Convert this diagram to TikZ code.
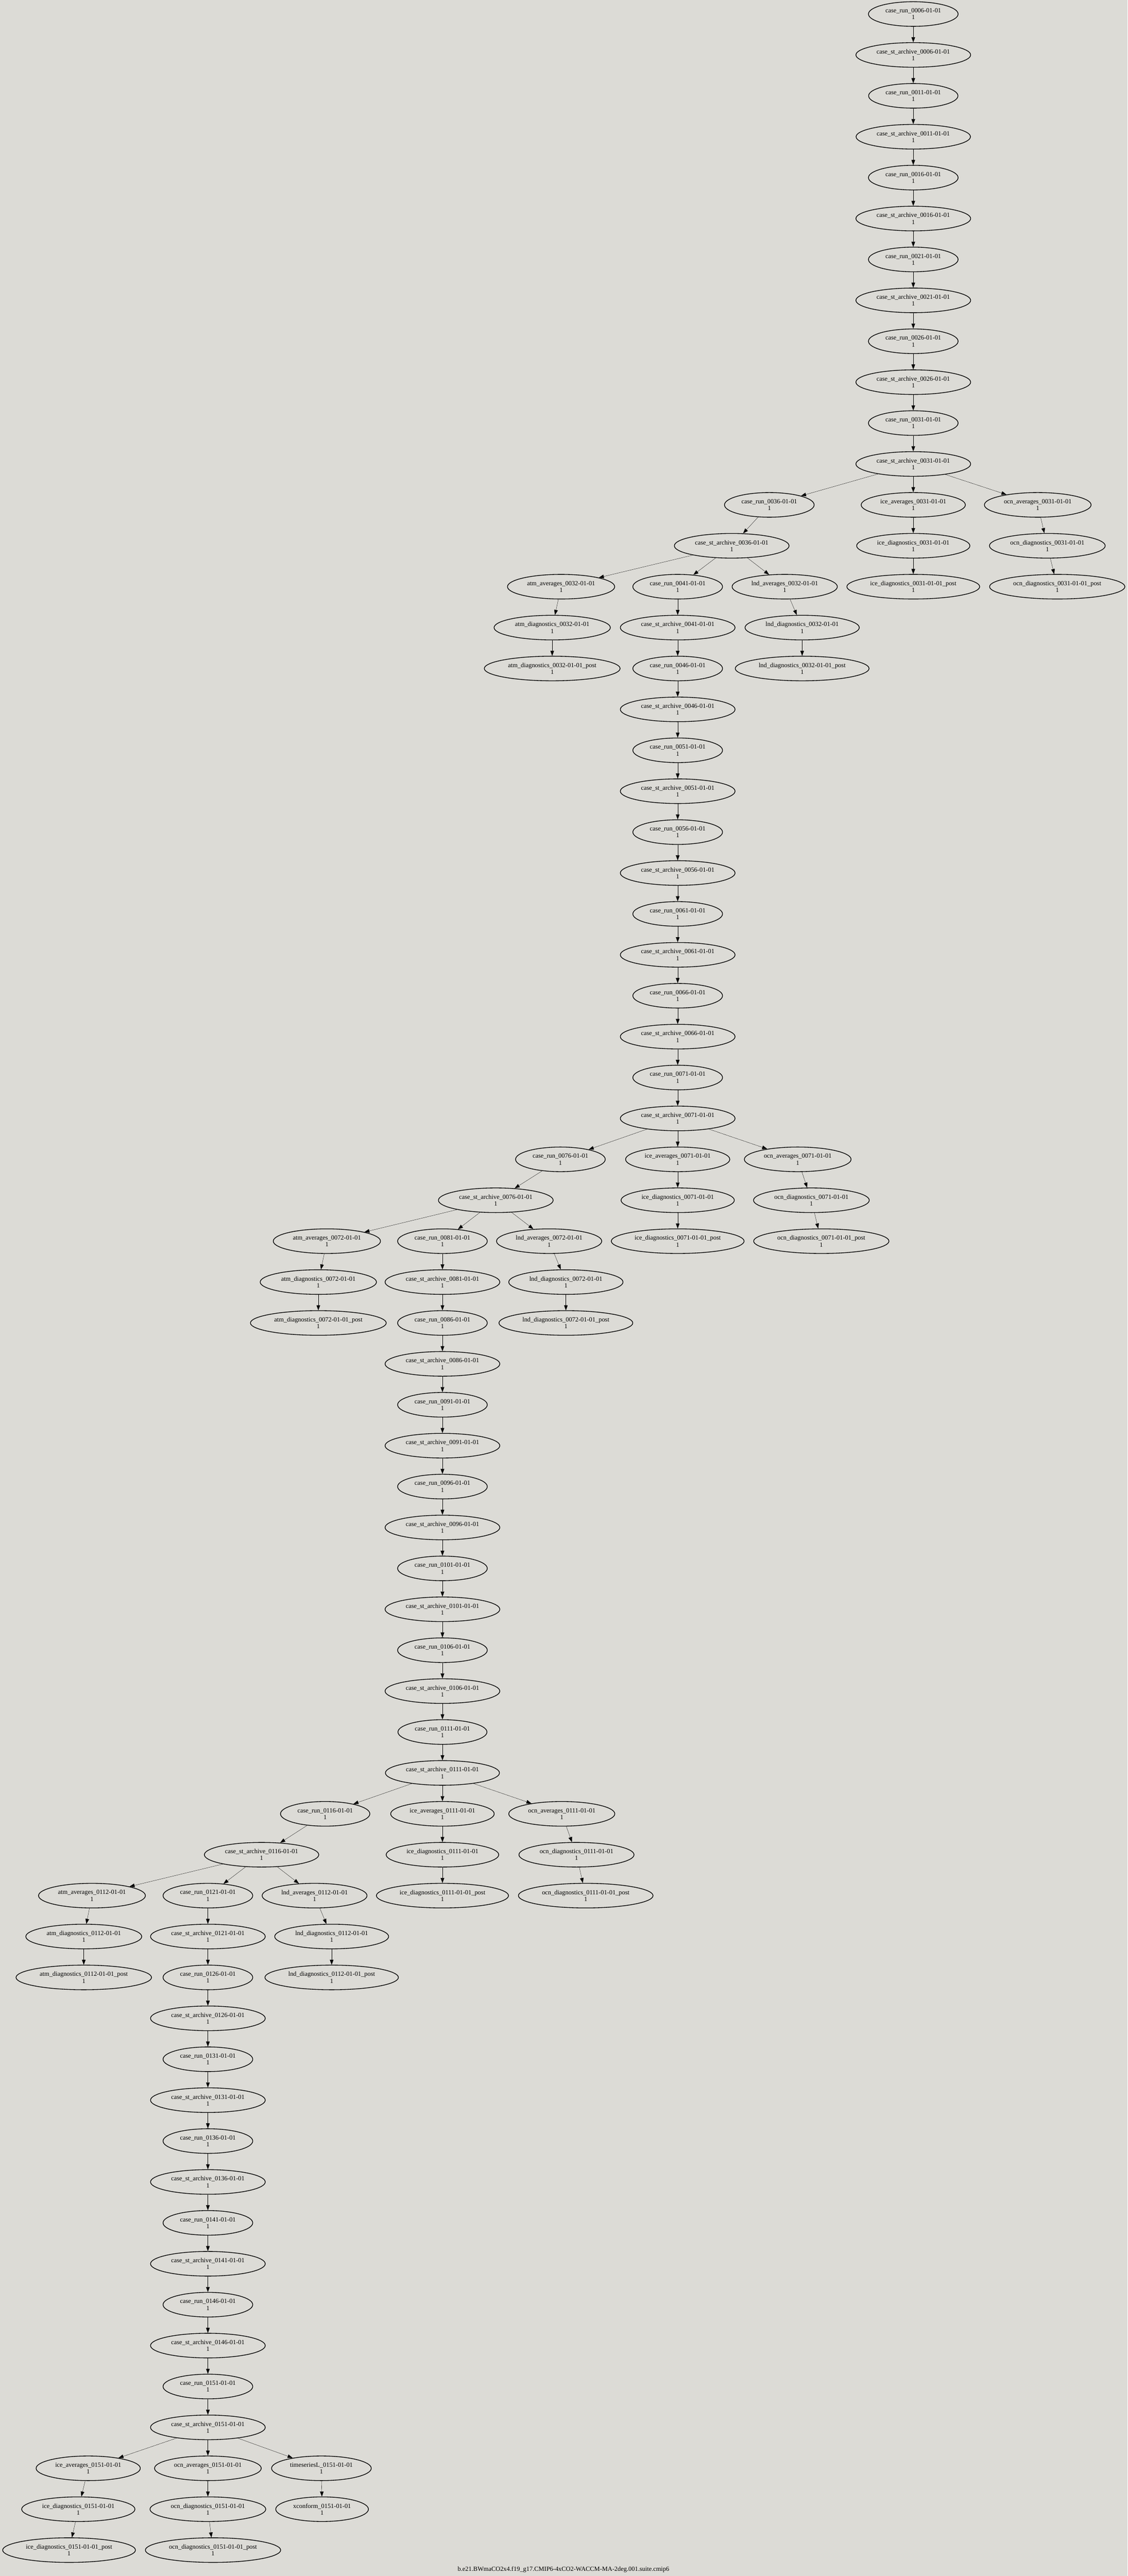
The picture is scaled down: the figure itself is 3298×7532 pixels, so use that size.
\documentclass[tikz,border=0pt]{standalone}
\usepackage{fontspec}
\setmainfont{Liberation Serif}
\usetikzlibrary{shapes.geometric,arrows.meta}
\definecolor{bgcol}{RGB}{220,219,214}
\newcommand\rk[1]{41+(#1)*119.6}

\begin{document}
\begin{tikzpicture}[
  x=0.75pt, y=-0.75pt,
  box/.style={ellipse, draw, line width=1.5pt, minimum height=54pt, inner xsep=8.5pt, inner ysep=0pt,
    align=center, font=\fontsize{14}{15}\selectfont},
  >={Triangle[length=11pt,width=8pt]}
]
  \fill[bgcol] (0,0) rectangle (3298,7532);
  \useasboundingbox (0,0) rectangle (3298,7532);

  % main column: case_run / case_st_archive
  \foreach \yr/\xr/\xs [remember=\yr as \prev (initially 0001)] in {
      0006/2671/2671, 0011/2671/2671, 0016/2671/2671, 0021/2671/2671, 0026/2671/2671, 0031/2671/2671,
      0036/2250/2140, 0041/1982/1982,
      0046/1982/1982, 0051/1982/1982, 0056/1982/1982, 0061/1982/1982, 0066/1982/1982, 0071/1982/1982,
      0076/1639/1450, 0081/1294/1294,
      0086/1294/1294, 0091/1294/1294, 0096/1294/1294, 0101/1294/1294, 0106/1294/1294, 0111/1294/1294,
      0116/951/765, 0121/608/608,
      0126/608/608, 0131/608/608, 0136/608/608, 0141/608/608, 0146/608/608, 0151/608/608} {
    \edef\rr{\the\numexpr2*(\yr-6)/5\relax}
    \node[box] (run\yr) at (\xr,{\rk{\rr}}) {case\_run\_\yr-01-01\\1};
    \node[box] (st\yr) at (\xs,{\rk{\rr+1}}) {case\_st\_archive\_\yr-01-01\\1};
    \draw[->] (run\yr) -- (st\yr);
    \ifnum\prev>1 \draw[->] (st\prev) -- (run\yr); \fi
  }

  % first branch
  \node[box] (iceavg0031) at (2671,{\rk{12}}) {ice\_averages\_0031-01-01\\1};
  \node[box] (ocnavg0031) at (3035,{\rk{12}}) {ocn\_averages\_0031-01-01\\1};
  \node[box] (icediag0031) at (2671,{\rk{13}}) {ice\_diagnostics\_0031-01-01\\1};
  \node[box] (ocndiag0031) at (3063,{\rk{13}}) {ocn\_diagnostics\_0031-01-01\\1};
  \node[box] (atmavg0032) at (1641,{\rk{14}}) {atm\_averages\_0032-01-01\\1};
  \node[box] (lndavg0032) at (2295,{\rk{14}}) {lnd\_averages\_0032-01-01\\1};
  \node[box] (icepost0031) at (2671,{\rk{14}}) {ice\_diagnostics\_0031-01-01\_post\\1};
  \node[box] (ocnpost0031) at (3092,{\rk{14}}) {ocn\_diagnostics\_0031-01-01\_post\\1};
  \node[box] (atmdiag0032) at (1615,{\rk{15}}) {atm\_diagnostics\_0032-01-01\\1};
  \node[box] (lnddiag0032) at (2346,{\rk{15}}) {lnd\_diagnostics\_0032-01-01\\1};
  \node[box] (atmpost0032) at (1615,{\rk{16}}) {atm\_diagnostics\_0032-01-01\_post\\1};
  \node[box] (lndpost0032) at (2346,{\rk{16}}) {lnd\_diagnostics\_0032-01-01\_post\\1};

  % second branch
  \node[box] (iceavg0071) at (1982,{\rk{28}}) {ice\_averages\_0071-01-01\\1};
  \node[box] (ocnavg0071) at (2333,{\rk{28}}) {ocn\_averages\_0071-01-01\\1};
  \node[box] (icediag0071) at (1982,{\rk{29}}) {ice\_diagnostics\_0071-01-01\\1};
  \node[box] (ocndiag0071) at (2373,{\rk{29}}) {ocn\_diagnostics\_0071-01-01\\1};
  \node[box] (atmavg0072) at (956,{\rk{30}}) {atm\_averages\_0072-01-01\\1};
  \node[box] (lndavg0072) at (1606,{\rk{30}}) {lnd\_averages\_0072-01-01\\1};
  \node[box] (icepost0071) at (1982,{\rk{30}}) {ice\_diagnostics\_0071-01-01\_post\\1};
  \node[box] (ocnpost0071) at (2402,{\rk{30}}) {ocn\_diagnostics\_0071-01-01\_post\\1};
  \node[box] (atmdiag0072) at (931,{\rk{31}}) {atm\_diagnostics\_0072-01-01\\1};
  \node[box] (lnddiag0072) at (1655,{\rk{31}}) {lnd\_diagnostics\_0072-01-01\\1};
  \node[box] (atmpost0072) at (931,{\rk{32}}) {atm\_diagnostics\_0072-01-01\_post\\1};
  \node[box] (lndpost0072) at (1655,{\rk{32}}) {lnd\_diagnostics\_0072-01-01\_post\\1};

  % third branch
  \node[box] (iceavg0111) at (1294,{\rk{44}}) {ice\_averages\_0111-01-01\\1};
  \node[box] (ocnavg0111) at (1643,{\rk{44}}) {ocn\_averages\_0111-01-01\\1};
  \node[box] (icediag0111) at (1294,{\rk{45}}) {ice\_diagnostics\_0111-01-01\\1};
  \node[box] (ocndiag0111) at (1686,{\rk{45}}) {ocn\_diagnostics\_0111-01-01\\1};
  \node[box] (atmavg0112) at (269,{\rk{46}}) {atm\_averages\_0112-01-01\\1};
  \node[box] (lndavg0112) at (920,{\rk{46}}) {lnd\_averages\_0112-01-01\\1};
  \node[box] (icepost0111) at (1294,{\rk{46}}) {ice\_diagnostics\_0111-01-01\_post\\1};
  \node[box] (ocnpost0111) at (1713,{\rk{46}}) {ocn\_diagnostics\_0111-01-01\_post\\1};
  \node[box] (atmdiag0112) at (245,{\rk{47}}) {atm\_diagnostics\_0112-01-01\\1};
  \node[box] (lnddiag0112) at (970,{\rk{47}}) {lnd\_diagnostics\_0112-01-01\\1};
  \node[box] (atmpost0112) at (245,{\rk{48}}) {atm\_diagnostics\_0112-01-01\_post\\1};
  \node[box] (lndpost0112) at (970,{\rk{48}}) {lnd\_diagnostics\_0112-01-01\_post\\1};

  % last branch
  \node[box] (iceavg0151) at (258,{\rk{60}}) {ice\_averages\_0151-01-01\\1};
  \node[box] (ocnavg0151) at (608,{\rk{60}}) {ocn\_averages\_0151-01-01\\1};
  \node[box] (ts0151) at (940,{\rk{60}}) {timeseriesL\_0151-01-01\\1};
  \node[box] (icediag0151) at (229,{\rk{61}}) {ice\_diagnostics\_0151-01-01\\1};
  \node[box] (ocndiag0151) at (608,{\rk{61}}) {ocn\_diagnostics\_0151-01-01\\1};
  \node[box] (xc0151) at (942,{\rk{61}}) {xconform\_0151-01-01\\1};
  \node[box] (icepost0151) at (202,{\rk{62}}) {ice\_diagnostics\_0151-01-01\_post\\1};
  \node[box] (ocnpost0151) at (623,{\rk{62}}) {ocn\_diagnostics\_0151-01-01\_post\\1};

  \foreach \a in {0031,0071,0111,0151} {
    \draw[->] (st\a) -- (iceavg\a);
    \draw[->] (st\a) -- (ocnavg\a);
    \draw[->] (iceavg\a) -- (icediag\a);
    \draw[->] (icediag\a) -- (icepost\a);
    \draw[->] (ocnavg\a) -- (ocndiag\a);
    \draw[->] (ocndiag\a) -- (ocnpost\a);
  }
  \foreach \b/\c in {0032/0036,0072/0076,0112/0116} {
    \draw[->] (st\c) -- (atmavg\b);
    \draw[->] (st\c) -- (lndavg\b);
    \draw[->] (atmavg\b) -- (atmdiag\b);
    \draw[->] (atmdiag\b) -- (atmpost\b);
    \draw[->] (lndavg\b) -- (lnddiag\b);
    \draw[->] (lnddiag\b) -- (lndpost\b);
  }
  \draw[->] (st0151) -- (ts0151);
  \draw[->] (ts0151) -- (xc0151);

  \node[anchor=base, font=\fontsize{14}{15}\selectfont] (title) at (1648,7517)
    {b.e21.BWmaCO2x4.f19\_g17.CMIP6-4xCO2-WACCM-MA-2deg.001.suite.cmip6};

\end{tikzpicture}
\end{document}
